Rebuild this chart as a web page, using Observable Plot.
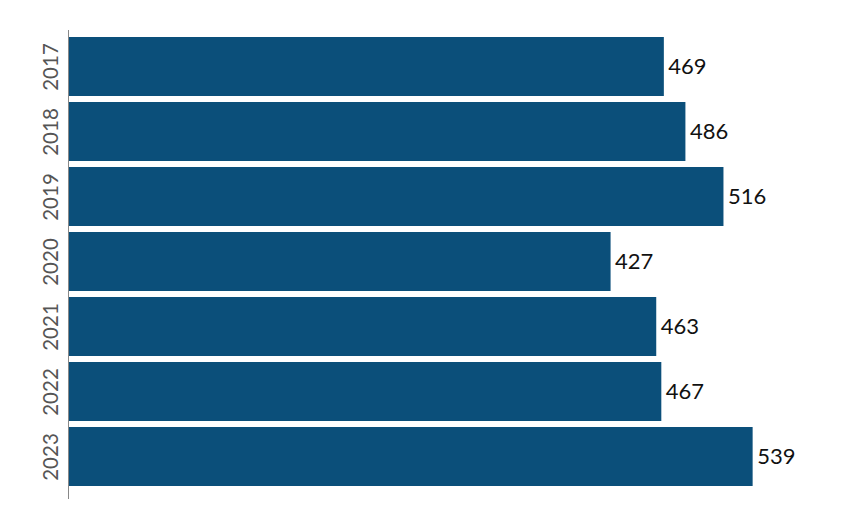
<!DOCTYPE html>
<html>
<head>
<meta charset="utf-8">
<script src="https://cdn.jsdelivr.net/npm/d3@7"></script>
<script src="https://cdn.jsdelivr.net/npm/@observablehq/plot@0.6"></script>
<style>
  body { margin: 0; background: #fff; }
</style>
</head>
<body>
<div id="chart"></div>
<script>
const years = ["2017", "2018", "2019", "2020", "2021", "2022", "2023"];
const values = [469, 486, 516, 427, 463, 467, 539];

const data = years.map((y, i) => ({year: y, value: values[i]}));

const chart = Plot.plot({
  width: 861,
  height: 530,
  marginLeft: 69,
  marginRight: 31,
  marginTop: 30,
  marginBottom: 31,
  style: {fontFamily: "Lato, sans-serif", background: "#fff"},
  x: {domain: [0, 600], axis: null},
  y: {domain: years, range: [28.6, 494.8], padding: 0.1, label: null},
  marks: [
    Plot.barX(data, {x: "value", y: "year", fill: "#0b4f7a"}),
    Plot.text(data, {x: "value", y: "year", text: d => String(d.value), textAnchor: "start", dx: 4, fontSize: 22, fill: "#111"}),
    Plot.axisY({tickSize: 0, tickPadding: 12, tickRotate: -90, fontSize: 20.5, color: "#555", label: null}),
    Plot.ruleX([0], {stroke: "#888", strokeWidth: 1, dx: -1})
  ]
});
document.getElementById("chart").appendChild(chart);
</script>
</body>
</html>
